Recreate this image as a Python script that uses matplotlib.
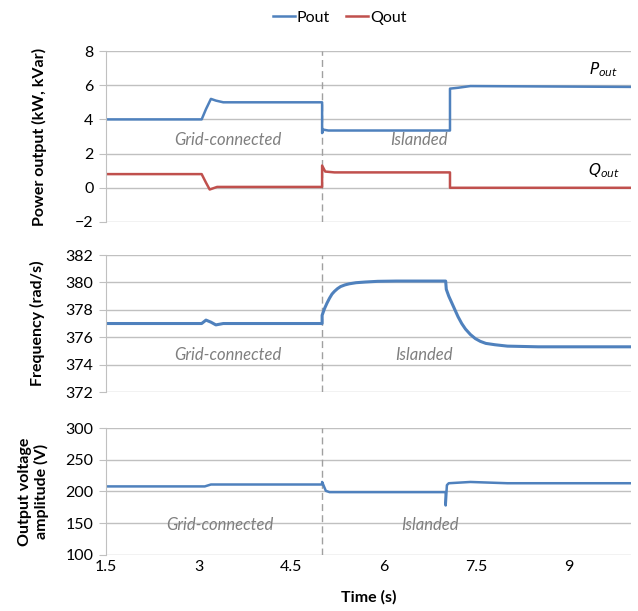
import matplotlib.pyplot as plt

plt.rcParams['font.family'] = ['Lato', 'DejaVu Sans']

# Pout / Qout (kW, kVar) - breakpoints
p_t = [1.5, 3.05, 3.12, 3.2, 3.28, 3.4, 5.0, 5.0, 5.02, 5.1, 7.07, 7.07, 7.2, 7.4, 10.0]
p_v = [4.0, 4.0, 4.6, 5.2, 5.1, 5.0, 5.0, 3.2, 3.4, 3.35, 3.35, 5.8, 5.85, 5.95, 5.9]

q_t = [1.5, 3.05, 3.12, 3.18, 3.3, 5.0, 5.0, 5.05, 5.2, 7.07, 7.07, 10.0]
q_v = [0.8, 0.8, 0.3, -0.1, 0.05, 0.05, 1.3, 0.95, 0.9, 0.9, 0.0, 0.0]

# frequency (rad/s)
f_t = [1.5, 3.05, 3.12, 3.2, 3.28, 3.4, 5.0, 5.0, 5.04, 5.08, 5.12, 5.16, 5.2, 5.25,
       5.3, 5.37, 5.44, 5.55, 5.7, 5.9, 6.2, 7.0, 7.01, 7.05, 7.1, 7.15, 7.2, 7.26,
       7.32, 7.4, 7.48, 7.56, 7.65, 7.8, 8.0, 8.5, 10.0]
f_v = [377.0, 377.0, 377.25, 377.1, 376.9, 377.0, 377.0, 377.6, 378.1, 378.5, 378.85,
       379.15, 379.35, 379.55, 379.7, 379.82, 379.9, 379.98, 380.03, 380.08, 380.1,
       380.1, 379.5, 379.0, 378.5, 378.0, 377.5, 377.0, 376.6, 376.2, 375.9, 375.7,
       375.55, 375.45, 375.35, 375.3, 375.3]

# output voltage amplitude (V)
v_t = [1.5, 3.1, 3.2, 5.0, 5.0, 5.06, 5.12, 7.0, 7.0, 7.02, 7.05, 7.4, 8.0, 10.0]
v_v = [208, 208, 211, 211, 215, 201, 199, 199, 178, 210, 213, 215, 213, 213]

x_ticks = [1.5, 3, 4.5, 6, 7.5, 9]
x_labels = ['1.5', '3', '4.5', '6', '7.5', '9']
t_switch = 5.0

blue = '#4F81BD'
red = '#C0504D'
grid_c = '#C0C0C0'
note_c = '#7F7F7F'

fig = plt.figure(figsize=(6.38, 6.11), dpi=100)
left, width = 0.166, 0.823
ax1 = fig.add_axes([left, 0.6367, width, 0.2798])
ax2 = fig.add_axes([left, 0.3584, width, 0.2242])
ax3 = fig.add_axes([left, 0.0917, width, 0.2078])


def style(ax, ylim, yticks):
    ax.set_xlim(1.5, 10)
    ax.set_ylim(*ylim)
    ax.set_yticks(yticks)
    ax.set_xticks(x_ticks)
    ax.set_xticklabels(x_labels)
    for s in ['top', 'right', 'bottom']:
        ax.spines[s].set_visible(False)
    ax.spines['left'].set_color(grid_c)
    ax.grid(axis='y', color=grid_c, linewidth=1)
    ax.set_axisbelow(True)
    ax.tick_params(axis='y', length=5, color=grid_c, labelsize=11.5, pad=4)
    ax.tick_params(axis='x', length=0, labelsize=11.5)
    ax.axvline(t_switch, color='#A0A0A0', linestyle=(0, (5, 3)), linewidth=1)


def note(ax, x, y, s):
    ax.text(x, y, s, color=note_c, style='italic', fontsize=12, ha='center', va='center')


style(ax1, (-2, 8), [-2, 0, 2, 4, 6, 8])
ax1.plot(p_t, p_v, color=blue, lw=1.8, label='Pout')
ax1.plot(q_t, q_v, color=red, lw=1.8, label='Qout')
ax1.tick_params(axis='x', labelbottom=False)
ax1.set_ylabel('Power output (kW, kVar)', fontsize=11.5, fontweight='bold', va='center')
ax1.yaxis.set_label_coords(-0.126, 0.5)
note(ax1, 3.47, 2.8, 'Grid-connected')
note(ax1, 6.56, 2.8, 'Islanded')
ax1.text(9.56, 6.9, r'$\mathit{P}_{\mathit{out}}$', fontsize=11, ha='center', va='center')
ax1.text(9.56, 1.0, r'$\mathit{Q}_{\mathit{out}}$', fontsize=11, ha='center', va='center')
ax1.legend(loc='lower center', bbox_to_anchor=(0.445, 1.07), ncol=2, frameon=False,
           fontsize=11.5, handlelength=1.4, handletextpad=0.1, columnspacing=1.0)

style(ax2, (372, 382), [372, 374, 376, 378, 380, 382])
ax2.plot(f_t, f_v, color=blue, lw=2.2)
ax2.tick_params(axis='x', labelbottom=False)
ax2.set_ylabel('Frequency (rad/s)', fontsize=11.5, fontweight='bold', va='center')
ax2.yaxis.set_label_coords(-0.13, 0.5)
note(ax2, 3.47, 374.7, 'Grid-connected')
note(ax2, 6.65, 374.7, 'Islanded')

style(ax3, (100, 300), [100, 150, 200, 250, 300])
ax3.plot(v_t, v_v, color=blue, lw=1.8)
ax3.set_ylabel('Output voltage\namplitude (V)', fontsize=11.5, fontweight='bold',
               va='center', linespacing=1.15)
ax3.yaxis.set_label_coords(-0.138, 0.5)
ax3.set_xlabel('Time (s)', fontsize=11.5, fontweight='bold', labelpad=12)
note(ax3, 3.35, 147, 'Grid-connected')
note(ax3, 6.75, 147, 'Islanded')

plt.savefig('out.png', dpi=100)
